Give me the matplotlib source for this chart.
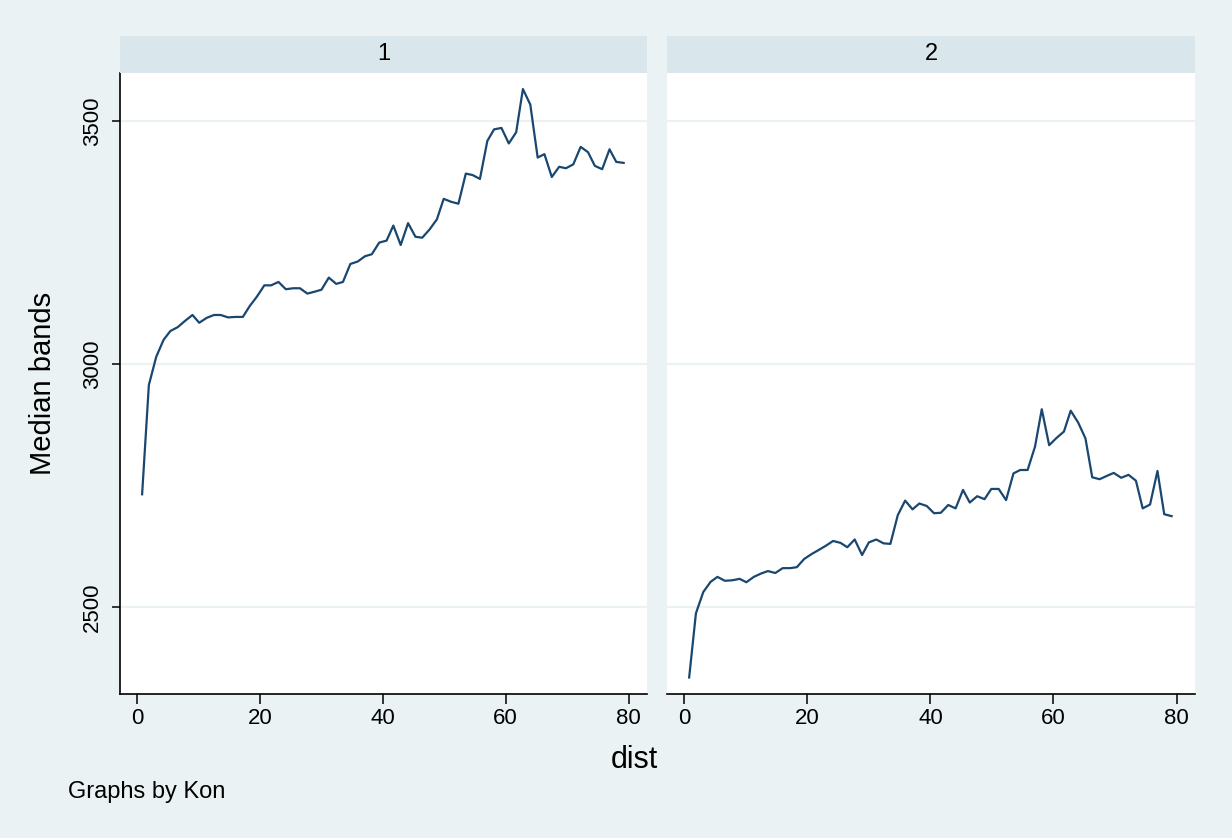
import matplotlib
matplotlib.use("Agg")
import matplotlib.pyplot as plt

plt.rcParams['font.family'] = ['Liberation Sans', 'DejaVu Sans']

# dist values (same grid in both panels)
dist = [0.8, 1.9, 3.1, 4.3, 5.4, 6.6, 7.8, 9.0, 10.1, 11.3,
        12.5, 13.6, 14.8, 16.0, 17.2, 18.3, 19.5, 20.7, 21.8, 23.0,
        24.2, 25.4, 26.5, 27.7, 28.9, 30.0, 31.2, 32.4, 33.5, 34.7,
        35.9, 37.1, 38.2, 39.4, 40.6, 41.7, 42.9, 44.1, 45.3, 46.4,
        47.6, 48.8, 49.9, 51.1, 52.3, 53.5, 54.6, 55.8, 57.0, 58.1,
        59.3, 60.5, 61.7, 62.8, 64.0, 65.2, 66.3, 67.5, 68.7, 69.8,
        71.0, 72.2, 73.4, 74.5, 75.7, 76.9, 78.0, 79.2]

# median bands, Kon == 1
bands_1 = [2732, 2957, 3015, 3050, 3068, 3076, 3089, 3101, 3085, 3095,
           3101, 3101, 3096, 3097, 3097, 3119, 3139, 3162, 3162, 3169,
           3154, 3156, 3156, 3145, 3149, 3153, 3178, 3165, 3169, 3206,
           3211, 3222, 3226, 3250, 3254, 3285, 3245, 3290, 3262, 3260,
           3277, 3298, 3340, 3334, 3330, 3392, 3389, 3381, 3459, 3483,
           3486, 3454, 3477, 3566, 3534, 3425, 3432, 3385, 3406, 3403,
           3411, 3447, 3436, 3408, 3401, 3442, 3416, 3414]

# median bands, Kon == 2
bands_2 = [2355, 2487, 2531, 2552, 2562, 2554, 2555, 2558, 2551, 2562,
           2569, 2574, 2570, 2580, 2580, 2582, 2599, 2609, 2617, 2626,
           2636, 2632, 2623, 2639, 2607, 2633, 2639, 2631, 2630, 2689,
           2719, 2701, 2713, 2708, 2693, 2694, 2710, 2703, 2741, 2715,
           2728, 2722, 2743, 2743, 2720, 2775, 2782, 2782, 2830, 2907,
           2833, 2848, 2861, 2904, 2880, 2847, 2767, 2763, 2770, 2776,
           2766, 2772, 2760, 2703, 2711, 2780, 2691, 2687]

panels = ['1', '2']
series = [bands_1, bands_2]
xticks = [0, 20, 40, 60, 80]
yticks = [2500, 3000, 3500]

bg = '#eaf2f3'
strip = '#d9e6ec'
navy = '#1a476f'

W, H = 1232, 838
fig = plt.figure(figsize=(W / 100, H / 100), dpi=100, facecolor=bg)

lefts = [120, 667]
widths = [527, 528]
top, bottom = 73, 694

for k in range(2):
    ax = fig.add_axes([lefts[k] / W, 1 - bottom / H, widths[k] / W, (bottom - top) / H])
    ax.set_facecolor('white')
    ax.plot(dist, series[k], color=navy, linewidth=1.6, zorder=3)
    ax.set_xlim(-2.8, 83.0)
    ax.set_ylim(2321, 3599)
    ax.set_yticks(yticks)
    ax.set_xticks(xticks)
    ax.grid(axis='y', color=bg, linewidth=1.6, zorder=1)
    for s in ['top', 'right']:
        ax.spines[s].set_visible(False)
    ax.spines['bottom'].set_linewidth(1.2)
    ax.tick_params(axis='x', direction='out', length=7, width=1.1, labelsize=16, pad=3)
    if k == 0:
        ax.spines['left'].set_linewidth(1.2)
        ax.tick_params(axis='y', direction='out', length=6, width=1.1, labelsize=16, pad=6)
        for lab in ax.get_yticklabels():
            lab.set_rotation(90)
            lab.set_va('center')
        ax.set_ylabel('Median bands', fontsize=21, labelpad=18)
    else:
        ax.spines['left'].set_visible(False)
        ax.tick_params(axis='y', length=0, labelleft=False)

    # strip with panel title
    sax = fig.add_axes([lefts[k] / W, 1 - top / H, widths[k] / W, 37 / H])
    sax.set_facecolor(strip)
    sax.set_xticks([])
    sax.set_yticks([])
    for s in sax.spines.values():
        s.set_visible(False)
    sax.text(0.5, 0.5, panels[k], ha='center', va='center', fontsize=17,
             transform=sax.transAxes)

fig.text(634 / W, 1 - 760 / H, 'dist', ha='center', va='center', fontsize=22)
fig.text(68 / W, 1 - 792 / H, 'Graphs by Kon', ha='left', va='center', fontsize=17)

fig.savefig('out.png', dpi=100, facecolor=bg)
